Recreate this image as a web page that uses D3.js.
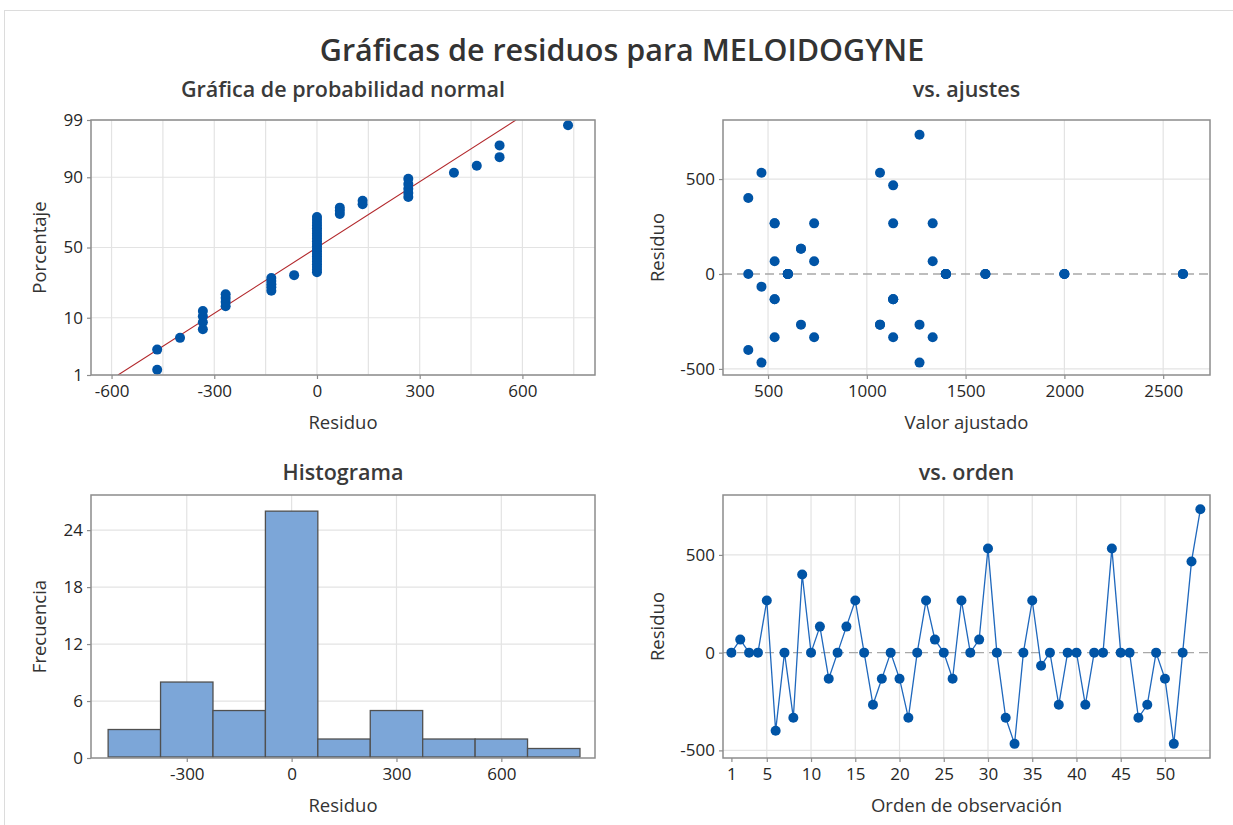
<!DOCTYPE html>
<html><head><meta charset="utf-8">
<script src="https://cdn.jsdelivr.net/npm/d3@7"></script>
<style>
body{margin:0;background:#fff;}
svg{font-family:"Open Sans","Noto Sans",sans-serif;}
</style></head><body>
<svg id="c" width="1233" height="825"></svg>
<script>
// ---------------- DATA ----------------
const chartTitle = "Gráficas de residuos para MELOIDOGYNE";
const panelTitles = ["Gráfica de probabilidad normal", "vs. ajustes", "Histograma", "vs. orden"];

// residuals in observation order (1..54)
const residuals = [
  0, 66.7, 0, 0, 266.7, -400, 0, -333.3, 400, 0,
  133.3, -133.3, 0, 133.3, 266.7, 0, -266.7, -133.3, 0, -133.3,
  -333.3, 0, 266.7, 66.7, 0, -133.3, 266.7, 0, 66.7, 533.3,
  0, -333.3, -466.7, 0, 266.7, -66.7, 0, -266.7, 0, 0,
  -266.7, 0, 0, 533.3, 0, 0, -333.3, -266.7, 0, -133.3,
  -466.7, 0, 466.7, 733.3
];
// fitted values for the same observations
const fittedValues = [
  600, 533.3, 600, 600, 533.3, 400, 400, 533.3, 400, 1400,
  666.7, 533.3, 1400, 666.7, 733.3, 1400, 666.7, 533.3, 1600, 1133.3,
  733.3, 1600, 533.3, 733.3, 1600, 1133.3, 1333.3, 2000, 1333.3, 466.7,
  2000, 1333.3, 466.7, 2000, 1133.3, 466.7, 2600, 1066.7, 2600, 2600,
  1066.7, 600, 600, 1066.7, 600, 1400, 1133.3, 1266.7, 1400, 1133.3,
  1266.7, 1400, 1133.3, 1266.7
];

const histBinEdges = [-525, -375, -225, -75, 75, 225, 375, 525, 675, 825];
const histCounts = [3, 8, 5, 26, 2, 5, 2, 2, 1];

const normalXTicks = [-600, -300, 0, 300, 600];
const normalXGrid = [-600, -450, -300, -150, 0, 150, 300, 450, 600, 750];
const normalYTicks = [1, 10, 50, 90, 99];
const fitXTicks = [500, 1000, 1500, 2000, 2500];
const residTicks = [-500, 0, 500];
const histXTicks = [-300, 0, 300, 600];
const histYTicks = [0, 6, 12, 18, 24];
const orderTicks = [1, 5, 10, 15, 20, 25, 30, 35, 40, 45, 50];

// ---------------- HELPERS ----------------
function normInv(p) {
  const a = [-3.969683028665376e+01, 2.209460984245205e+02, -2.759285104469687e+02, 1.383577518672690e+02, -3.066479806614716e+01, 2.506628277459239e+00];
  const b = [-5.447609879822406e+01, 1.615858368580409e+02, -1.556989798598866e+02, 6.680131188771972e+01, -1.328068155288572e+01];
  const c = [-7.784894002430293e-03, -3.223964580411365e-01, -2.400758277161838e+00, -2.549671180840119e+00, 4.374664141464968e+00, 2.938163982698783e+00];
  const d = [7.784695709041462e-03, 3.224671290700398e-01, 2.445134137142996e+00, 3.754408661907416e+00];
  const pl = 0.02425, ph = 1 - pl;
  let q, r;
  if (p < pl) { q = Math.sqrt(-2 * Math.log(p)); return (((((c[0]*q+c[1])*q+c[2])*q+c[3])*q+c[4])*q+c[5]) / ((((d[0]*q+d[1])*q+d[2])*q+d[3])*q+1); }
  if (p <= ph) { q = p - 0.5; r = q*q; return (((((a[0]*r+a[1])*r+a[2])*r+a[3])*r+a[4])*r+a[5])*q / (((((b[0]*r+b[1])*r+b[2])*r+b[3])*r+b[4])*r+1); }
  q = Math.sqrt(-2 * Math.log(1 - p)); return -(((((c[0]*q+c[1])*q+c[2])*q+c[3])*q+c[4])*q+c[5]) / ((((d[0]*q+d[1])*q+d[2])*q+d[3])*q+1);
}

const svg = d3.select("#c");
const TXT = "#262626", GRID = "#e3e3e3", FRAME = "#8c8c8c", BLUE = "#0054a6";
const DOT_R = 5;
const fmt = d => String(d);

// outer window border
svg.append("line").attr("x1", 4).attr("x2", 1233).attr("y1", 10.5).attr("y2", 10.5).attr("stroke", "#dcdcdc");
svg.append("line").attr("x1", 4.5).attr("x2", 4.5).attr("y1", 10).attr("y2", 825).attr("stroke", "#dcdcdc");

svg.append("text").attr("x", 622).attr("y", 61).attr("text-anchor", "middle")
  .attr("font-size", 30.5).attr("font-weight", 600).attr("fill", "#333").text(chartTitle);

function panel(p, titleText, xTitle, yTitle, titleY) {
  const g = svg.append("g");
  g.append("text").attr("x", (p.L + p.R) / 2).attr("y", titleY).attr("text-anchor", "middle")
    .attr("font-size", 21.5).attr("font-weight", 600).attr("fill", "#3a3a3a").text(titleText);
  g.append("text").attr("x", (p.L + p.R) / 2).attr("y", p.B + 54).attr("text-anchor", "middle")
    .attr("font-size", 18.5).attr("fill", "#333").text(xTitle);
  g.append("text").attr("transform", `translate(${p.L - p.yt},${(p.T + p.B) / 2}) rotate(-90)`)
    .attr("text-anchor", "middle").attr("font-size", 18.5).attr("fill", "#333").text(yTitle);
  return g;
}
function gridV(g, p, x, vals) {
  g.selectAll(null).data(vals).enter().append("line")
    .attr("x1", d => x(d)).attr("x2", d => x(d)).attr("y1", p.T).attr("y2", p.B)
    .attr("stroke", GRID).attr("stroke-width", 1.2);
}
function gridH(g, p, y, vals) {
  g.selectAll(null).data(vals).enter().append("line")
    .attr("y1", d => y(d)).attr("y2", d => y(d)).attr("x1", p.L).attr("x2", p.R)
    .attr("stroke", GRID).attr("stroke-width", 1.2);
}
function frame(g, p) {
  g.append("rect").attr("x", p.L).attr("y", p.T).attr("width", p.R - p.L).attr("height", p.B - p.T)
    .attr("fill", "none").attr("stroke", FRAME).attr("stroke-width", 1.5);
}
function styleAxis(a) {
  a.select(".domain").remove();
  a.selectAll(".tick line").attr("stroke", FRAME).attr("stroke-width", 1.2);
  a.selectAll(".tick text").attr("font-size", 17).attr("fill", TXT).attr("font-family", '"Open Sans","Noto Sans",sans-serif');
}
function axes(g, p, x, y, xt, yt) {
  const ax = g.append("g").attr("transform", `translate(0,${p.B})`)
    .call(d3.axisBottom(x).tickValues(xt).tickSize(4).tickPadding(6).tickFormat(fmt));
  styleAxis(ax);
  const ay = g.append("g").attr("transform", `translate(${p.L},0)`)
    .call(d3.axisLeft(y).tickValues(yt).tickSize(4).tickPadding(4).tickFormat(fmt));
  styleAxis(ay);
}

// ---------------- PANEL 1: normal probability ----------------
{
  const p = {L: 91, R: 595, T: 120, B: 375, yt: 45};
  const g = panel(p, panelTitles[0], "Residuo", "Porcentaje", 97);
  const x = d3.scaleLinear().domain([-660, 812]).range([p.L, p.R]);
  const zTop = normInv(0.99);
  const y = d3.scaleLinear().domain([-zTop, zTop]).range([p.B, p.T]);
  const yp = v => y(normInv(v / 100));
  gridV(g, p, x, normalXGrid);
  g.selectAll(null).data(normalYTicks).enter().append("line")
    .attr("y1", d => yp(d)).attr("y2", d => yp(d)).attr("x1", p.L).attr("x2", p.R)
    .attr("stroke", GRID).attr("stroke-width", 1.2);
  const n = residuals.length;
  const sorted = residuals.slice().sort((a, b) => a - b);
  const pts = sorted.map((r, i) => ({r, z: normInv((i + 1 - 0.3) / (n + 0.4))}));
  const mu = d3.mean(residuals), sd = d3.deviation(residuals);
  const clipId = "clipN";
  svg.append("clipPath").attr("id", clipId).append("rect").attr("x", p.L).attr("y", p.T).attr("width", p.R - p.L).attr("height", p.B - p.T);
  g.append("line").attr("clip-path", `url(#${clipId})`)
    .attr("x1", x(mu - zTop * sd)).attr("y1", y(-zTop)).attr("x2", x(mu + zTop * sd)).attr("y2", y(zTop))
    .attr("stroke", "#b2272b").attr("stroke-width", 1.1);
  g.selectAll(null).data(pts).enter().append("circle")
    .attr("cx", d => x(d.r)).attr("cy", d => y(d.z)).attr("r", DOT_R).attr("fill", BLUE);
  frame(g, p);
  const ax = g.append("g").attr("transform", `translate(0,${p.B})`)
    .call(d3.axisBottom(x).tickValues(normalXTicks).tickSize(4).tickPadding(6).tickFormat(fmt));
  styleAxis(ax);
  const ay = g.append("g").attr("transform", `translate(${p.L},0)`)
    .call(d3.axisLeft(y).tickValues(normalYTicks.map(v => normInv(v / 100))).tickSize(4).tickPadding(4)
      .tickFormat((d, i) => String(normalYTicks[i])));
  styleAxis(ay);
}

// ---------------- PANEL 2: vs fits ----------------
{
  const p = {L: 723, R: 1210, T: 120, B: 375, yt: 59};
  const g = panel(p, panelTitles[1], "Valor ajustado", "Residuo", 97);
  const x = d3.scaleLinear().domain([272, 2737]).range([p.L, p.R]);
  const y = d3.scaleLinear().domain([-532, 811]).range([p.B, p.T]);
  gridV(g, p, x, fitXTicks);
  gridH(g, p, y, [-500, 500]);
  g.append("line").attr("x1", p.L).attr("x2", p.R).attr("y1", y(0)).attr("y2", y(0))
    .attr("stroke", "#a8a8a8").attr("stroke-width", 1.4).attr("stroke-dasharray", "9,5");
  g.selectAll(null).data(residuals.map((r, i) => ({r, f: fittedValues[i]}))).enter().append("circle")
    .attr("cx", d => x(d.f)).attr("cy", d => y(d.r)).attr("r", DOT_R).attr("fill", BLUE);
  frame(g, p);
  axes(g, p, x, y, fitXTicks, residTicks);
}

// ---------------- PANEL 3: histogram ----------------
{
  const p = {L: 91, R: 595, T: 495, B: 758, yt: 45};
  const g = panel(p, panelTitles[2], "Residuo", "Frecuencia", 480);
  const x = d3.scaleLinear().domain([-574, 868]).range([p.L, p.R]);
  const y = d3.scaleLinear().domain([0, 27.7]).range([p.B, p.T]);
  gridV(g, p, x, histXTicks);
  gridH(g, p, y, histYTicks.slice(1));
  const bins = histCounts.map((c, i) => ({x0: histBinEdges[i], x1: histBinEdges[i + 1], c}));
  g.selectAll(null).data(bins).enter().append("rect")
    .attr("x", d => x(d.x0)).attr("width", d => x(d.x1) - x(d.x0))
    .attr("y", d => y(d.c)).attr("height", d => y(0) - y(d.c) - 1)
    .attr("fill", "#7ca6d8").attr("stroke", "#505050").attr("stroke-width", 1.3);
  frame(g, p);
  axes(g, p, x, y, histXTicks, histYTicks);
}

// ---------------- PANEL 4: vs order ----------------
{
  const p = {L: 723, R: 1210, T: 495, B: 758, yt: 59};
  const g = panel(p, panelTitles[3], "Orden de observación", "Residuo", 480);
  const order = residuals.map((_, i) => i + 1);
  const x = d3.scaleLinear().domain([0.05, 55.09]).range([p.L, p.R]);
  const y = d3.scaleLinear().domain([-539, 806.6]).range([p.B, p.T]);
  gridV(g, p, x, orderTicks.slice(1));
  gridH(g, p, y, [-500, 500]);
  g.append("line").attr("x1", p.L).attr("x2", p.R).attr("y1", y(0)).attr("y2", y(0))
    .attr("stroke", "#a8a8a8").attr("stroke-width", 1.4).attr("stroke-dasharray", "9,5");
  const data = residuals.map((r, i) => ({o: order[i], r}));
  g.append("path").datum(data)
    .attr("d", d3.line().x(d => x(d.o)).y(d => y(d.r)))
    .attr("fill", "none").attr("stroke", "#1f68bd").attr("stroke-width", 1.3);
  g.selectAll(null).data(data).enter().append("circle")
    .attr("cx", d => x(d.o)).attr("cy", d => y(d.r)).attr("r", DOT_R).attr("fill", BLUE);
  frame(g, p);
  axes(g, p, x, y, orderTicks, residTicks);
}
</script>
</body></html>
